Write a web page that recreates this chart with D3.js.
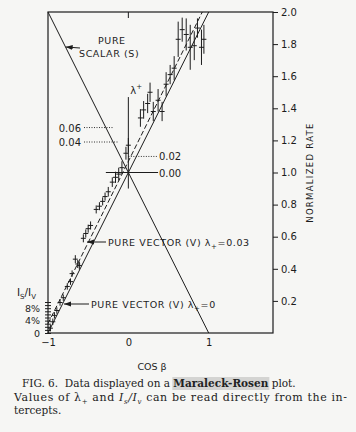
<!DOCTYPE html>
<html><head><meta charset="utf-8">
<script src="https://cdn.jsdelivr.net/npm/d3@7"></script>
<style>
body{margin:0;background:#f6f6f4;}
svg{display:block;}
</style></head><body>
<div id="chart"></div>
<script>
// measured points: cos(beta), normalized rate, half error bar
const cosBeta = [-0.97,-0.94,-0.92,-0.89,-0.85,-0.81,-0.76,-0.72,-0.70,-0.66,-0.63,-0.61,-0.56,-0.53,-0.50,-0.47,
  -0.40,-0.36,-0.32,-0.29,-0.25,-0.20,-0.16,-0.12,-0.08,-0.03,0.00,
  0.15,0.19,0.24,0.27,0.31,0.37,0.42,0.47,0.52,0.57,0.62,0.67,0.72,0.77,0.82,0.86,0.91,0.94];
const rate = [0.03,0.07,0.11,0.14,0.19,0.22,0.29,0.32,0.37,0.46,0.43,0.42,0.59,0.62,0.65,0.67,
  0.77,0.79,0.82,0.85,0.88,0.94,0.97,0.99,1.03,1.12,1.17,
  1.34,1.39,1.43,1.50,1.38,1.45,1.38,1.55,1.61,1.65,1.83,1.89,1.86,1.78,1.79,1.90,1.78,1.83];
const rateErr = [0.02,0.02,0.02,0.02,0.02,0.02,0.02,0.02,0.02,0.025,0.025,0.025,0.025,0.025,0.025,0.025,
  0.025,0.025,0.025,0.025,0.03,0.03,0.035,0.04,0.04,0.04,0.045,
  0.055,0.055,0.06,0.06,0.06,0.07,0.06,0.075,0.06,0.075,0.11,0.075,0.10,0.14,0.09,0.06,0.11,0.09];

const rateTicks = [0.2,0.4,0.6,0.8,1.0,1.2,1.4,1.6,1.8,2.0];
const cosTicks = [-1,0,1];
const ratioTicks = [0,1,2,3,4,5,6,7,8,9,10];   // I_s/I_v in %
const ratioLabels = {0:"0",4:"4%",8:"8%"};
const lambdaLeft = [0.06,0.04];
const lambdaLeftRate = [1.28,1.19];
const lambdaLeftEnd = [-0.19,-0.13];
const lambdaRight = [0.02,0.00];
const lambdaRightRate = [1.10,1.00];

const scalarLine = [[-1,2],[1,0]];
const vectorLine0 = [[-1,0],[1,2]];
const vectorLine3 = [[-1,0.058],[0.92,2]];

const W = 356, H = 432;
const svg = d3.select("#chart").append("svg").attr("width", W).attr("height", H);
const ink = "#1c1c1c";
const sans = "'DejaVu Sans', sans-serif";

const x = d3.scaleLinear().domain([-1, 1.8]).range([48, 273]);
const y = d3.scaleLinear().domain([0, 2]).range([333, 12]);
const yRatio = d3.scaleLinear().domain([0, 10]).range([333, 302]);

const defs = svg.append("defs");
defs.append("marker").attr("id", "arr").attr("viewBox", "0 0 10 10")
  .attr("refX", 10).attr("refY", 5).attr("markerWidth", 7).attr("markerHeight", 7)
  .attr("orient", "auto-start-reverse")
  .append("path").attr("d", "M0,1.5L10,5L0,8.5z").attr("fill", ink);

// frame
svg.append("rect").attr("x", x(-1)).attr("y", y(2))
  .attr("width", x(1.8) - x(-1)).attr("height", y(0) - y(2))
  .attr("fill", "none").attr("stroke", ink).attr("stroke-width", 1.2);

// right axis
const yAxis = svg.append("g").attr("transform", `translate(${x(1.8)},0)`)
  .call(d3.axisRight(y).tickValues(rateTicks).tickSize(5).tickPadding(3).tickFormat(d3.format(".1f")));
yAxis.select(".domain").remove();
yAxis.selectAll("line").attr("stroke", ink);
yAxis.selectAll("text").attr("fill", ink).style("font", `10px ${sans}`);

svg.append("text").attr("transform", `translate(313,${y(1.0)}) rotate(-90)`)
  .attr("text-anchor", "middle").attr("fill", ink)
  .style("font", `8.5px ${sans}`).style("letter-spacing", "1.3px")
  .text("NORMALIZED RATE");

// bottom axis
const xAxis = svg.append("g").attr("transform", `translate(0,${y(0)})`)
  .call(d3.axisBottom(x).tickValues(cosTicks).tickSize(0).tickPadding(6).tickFormat(d3.format("d")));
xAxis.select(".domain").remove();
xAxis.selectAll("text").attr("fill", ink).style("font", `10px ${sans}`);
svg.append("line").attr("x1", x(0)).attr("x2", x(0)).attr("y1", y(2)).attr("y2", y(2) + 6)
  .attr("stroke", ink);

svg.append("text").attr("x", 152).attr("y", 370).attr("text-anchor", "middle")
  .attr("fill", ink).style("font", `9.5px ${sans}`).text("COS β");

// left I_s/I_v scale
const rAxis = svg.append("g").attr("transform", `translate(${x(-1)},0)`)
  .call(d3.axisLeft(yRatio).tickValues(ratioTicks).tickSize(3).tickPadding(5)
    .tickFormat(d => ratioLabels[d] || ""));
rAxis.select(".domain").remove();
rAxis.selectAll("line").attr("x2", -3).attr("x1", 3).attr("stroke", ink);
rAxis.selectAll("text").attr("fill", ink).style("font", `9.5px ${sans}`);
const ratioLbl = svg.append("text").attr("x", 17).attr("y", 296).attr("fill", ink)
  .style("font", `10.5px ${sans}`);
ratioLbl.append("tspan").text("I");
ratioLbl.append("tspan").attr("dy", 3).style("font-size", "7px").text("S");
ratioLbl.append("tspan").attr("dy", -3).text("/I");
ratioLbl.append("tspan").attr("dy", 3).style("font-size", "7px").text("V");

// theory lines
const line = d3.line().x(d => x(d[0])).y(d => y(d[1]));
svg.append("path").attr("d", line(scalarLine)).attr("fill", "none").attr("stroke", ink).attr("stroke-width", 1);
svg.append("path").attr("d", line(vectorLine0)).attr("fill", "none").attr("stroke", ink).attr("stroke-width", 1);
svg.append("path").attr("d", line(vectorLine3)).attr("fill", "none").attr("stroke", ink)
  .attr("stroke-width", 1).attr("stroke-dasharray", "5,2.5");

// lambda+ scale at cos beta = 0
svg.append("line").attr("x1", x(0)).attr("x2", x(0)).attr("y1", y(1.47)).attr("y2", y(0.9))
  .attr("stroke", ink).attr("stroke-width", 1);
svg.append("line").attr("x1", x(-0.28)).attr("x2", x(0.37)).attr("y1", y(1.0)).attr("y2", y(1.0))
  .attr("stroke", ink).attr("stroke-width", 1);
const lam = svg.append("text").attr("x", x(0) + 2).attr("y", y(1.49)).attr("fill", ink)
  .style("font", `10px ${sans}`);
lam.append("tspan").text("λ");
lam.append("tspan").attr("dy", -5).style("font-size", "7px").text("+");

lambdaLeft.forEach((v, i) => {
  svg.append("text").attr("x", 81).attr("y", y(lambdaLeftRate[i]) + 4).attr("text-anchor", "end")
    .attr("fill", ink).style("font", `10px ${sans}`).text(d3.format(".2f")(v));
  svg.append("line").attr("x1", 84).attr("x2", x(lambdaLeftEnd[i]))
    .attr("y1", y(lambdaLeftRate[i])).attr("y2", y(lambdaLeftRate[i]))
    .attr("stroke", ink).attr("stroke-width", 0.9).attr("stroke-dasharray", "1,1.5");
});
lambdaRight.forEach((v, i) => {
  if (v > 0) {
    svg.append("line").attr("x1", x(0)).attr("x2", x(0.36))
      .attr("y1", y(lambdaRightRate[i])).attr("y2", y(lambdaRightRate[i]))
      .attr("stroke", ink).attr("stroke-width", 0.9).attr("stroke-dasharray", "1,1.5");
  }
  svg.append("text").attr("x", x(0.38)).attr("y", y(lambdaRightRate[i]) + 4)
    .attr("fill", ink).style("font", `10px ${sans}`).text(d3.format(".2f")(v));
});

// data points with error bars
const pts = svg.append("g").attr("stroke", ink).attr("stroke-width", 1);
cosBeta.forEach((c, i) => {
  const cx = x(c), cy = y(rate[i]);
  pts.append("line").attr("x1", cx).attr("x2", cx)
    .attr("y1", y(rate[i] - rateErr[i])).attr("y2", y(rate[i] + rateErr[i]));
  pts.append("line").attr("x1", cx - 2.5).attr("x2", cx + 2.5).attr("y1", cy).attr("y2", cy);
});

// annotations
const ann = svg.append("g").attr("fill", ink).style("font", `9.5px ${sans}`).style("letter-spacing", "0.6px");
ann.append("text").attr("x", 98).attr("y", 44).text("PURE");
ann.append("text").attr("x", 79).attr("y", 57).text("SCALAR (S)");
svg.append("line").attr("x1", 80).attr("y1", 48).attr("x2", x(-0.78)).attr("y2", 47)
  .attr("stroke", ink).attr("marker-end", "url(#arr)");

const t1 = ann.append("text").attr("x", 108).attr("y", 246);
t1.append("tspan").text("PURE VECTOR (V) λ");
t1.append("tspan").attr("dy", 3).style("font-size", "7px").text("+");
t1.append("tspan").attr("dy", -3).text("=0.03");
svg.append("line").attr("x1", 106).attr("y1", 242).attr("x2", 87).attr("y2", 242)
  .attr("stroke", ink).attr("marker-end", "url(#arr)");

const t2 = ann.append("text").attr("x", 91).attr("y", 308);
t2.append("tspan").text("PURE VECTOR (V) λ");
t2.append("tspan").attr("dy", 3).style("font-size", "7px").text("+");
t2.append("tspan").attr("dy", -3).text("=0");
svg.append("line").attr("x1", 89).attr("y1", 304).attr("x2", 64).attr("y2", 304)
  .attr("stroke", ink).attr("marker-end", "url(#arr)");

// caption
const serif = "'DejaVu Serif', serif";
const nb = "\u00a0";
const cap = svg.append("g").attr("fill", "#222").style("font", `10.5px ${serif}`);
const parts = [[`FIG. 6.${nb}${nb}Data displayed on a${nb}`, "normal"], ["Maraleck-Rosen", "bold"], [`${nb}plot.`, "normal"]];
let cursor = 22;
parts.forEach(p => {
  const t = cap.append("text").attr("x", cursor).attr("y", 387).style("font-weight", p[1]).text(p[0]);
  const w = t.node().getComputedTextLength();
  if (p[1] === "bold") {
    cap.insert("rect", ":first-child").attr("x", cursor - 1).attr("y", 377).attr("width", w + 2).attr("height", 13)
      .attr("fill", "#d4d4d2");
  }
  cursor += w;
});
const c2 = cap.append("text").attr("x", 14).attr("y", 401).style("font-size", "11px");
c2.append("tspan").text("Values of λ");
c2.append("tspan").attr("dy", 3).style("font-size", "7px").text("+");
c2.append("tspan").attr("dy", -3).text(" and ");
c2.append("tspan").style("font-style", "italic").text("I");
c2.append("tspan").attr("dy", 3).style("font-size", "7px").style("font-style", "italic").text("s");
c2.append("tspan").attr("dy", -3).style("font-style", "italic").text("/I");
c2.append("tspan").attr("dy", 3).style("font-size", "7px").style("font-style", "italic").text("v");
c2.append("tspan").attr("dy", -3).text(" can be read directly from the in-");
c2.attr("textLength", 333).attr("lengthAdjust", "spacing");
cap.append("text").attr("x", 14).attr("y", 414).text("tercepts.");
</script>
</body></html>
